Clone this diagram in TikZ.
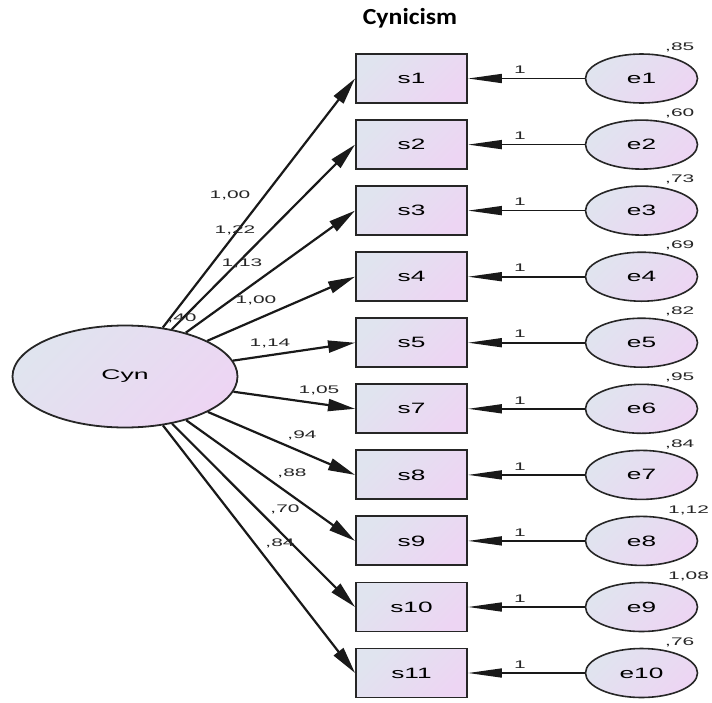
\documentclass[tikz,border=0pt]{standalone}
\usepackage{graphicx}
\usepackage{fontspec}
\setmainfont{Liberation Sans}
\newfontfamily\titlefont{Carlito}
\usetikzlibrary{arrows.meta,shapes.geometric}
\definecolor{shA}{RGB}{224,228,239}
\definecolor{shB}{RGB}{237,213,243}
\newcommand\wbox[1]{\scalebox{1.75}[1]{#1}}
\newcommand\wlbl[1]{\scalebox{1.9}[1]{#1}}
\begin{document}
\begin{tikzpicture}[x=1pt,y=-1pt,
  shadefill/.style={shading=axis, top color=shA, bottom color=shB, shading angle=45},
  obsbox/.style={rectangle, draw=black!85, line width=1.9pt, shadefill, minimum width=111pt, minimum height=49pt, inner sep=0pt, font=\fontsize{15}{15}\selectfont},
  errell/.style={ellipse, draw=black!85, line width=1.6pt, shadefill, minimum width=112pt, minimum height=49pt, inner sep=0pt, font=\fontsize{15}{15}\selectfont},
  latell/.style={ellipse, draw=black!85, line width=1.8pt, shadefill, minimum width=225pt, minimum height=102pt, inner sep=0pt, font=\fontsize{14}{14}\selectfont},
  lbl/.style={inner sep=0pt, font=\fontsize{11}{11}\selectfont, text=black!85},
  cynarrow/.style={draw=black!90, line width=2.2pt, -{Triangle[length=27pt,width=12pt]}},
  errarrow/.style={draw=black!90, line width=1.6pt, -{Triangle[length=34pt,width=9pt]}}]
\useasboundingbox (0,0) rectangle (712,702);
\node (title) at (410,18) {\titlefont\bfseries\fontsize{23}{23}\selectfont\scalebox{1.12}[1]{Cynicism}};
% latent
\node[latell] (cyn) at (125,376.5) {\wlbl{Cyn}};
% observed boxes
\node[obsbox] (s1)  at (411.5,78.5)  {\wbox{s1}};
\node[obsbox] (s2)  at (411.5,144.6) {\wbox{s2}};
\node[obsbox] (s3)  at (411.5,210.6) {\wbox{s3}};
\node[obsbox] (s4)  at (411.5,276.7) {\wbox{s4}};
\node[obsbox] (s5)  at (411.5,342.7) {\wbox{s5}};
\node[obsbox] (s7)  at (411.5,408.8) {\wbox{s7}};
\node[obsbox] (s8)  at (411.5,474.9) {\wbox{s8}};
\node[obsbox] (s9)  at (411.5,540.9) {\wbox{s9}};
\node[obsbox] (s10) at (411.5,607.0) {\wbox{s10}};
\node[obsbox] (s11) at (411.5,673.0) {\wbox{s11}};
% error ellipses
\node[errell] (e1)  at (641.5,78.5)  {\wbox{e1}};
\node[errell] (e2)  at (641.5,144.6) {\wbox{e2}};
\node[errell] (e3)  at (641.5,210.6) {\wbox{e3}};
\node[errell] (e4)  at (641.5,276.7) {\wbox{e4}};
\node[errell] (e5)  at (641.5,342.7) {\wbox{e5}};
\node[errell] (e6)  at (641.5,408.8) {\wbox{e6}};
\node[errell] (e7)  at (641.5,474.9) {\wbox{e7}};
\node[errell] (e8)  at (641.5,540.9) {\wbox{e8}};
\node[errell] (e9)  at (641.5,607.0) {\wbox{e9}};
\node[errell] (e10) at (641.5,673.0) {\wbox{e10}};
% error arrows
\foreach \a/\b in {e1/s1,e2/s2,e3/s3,e4/s4,e5/s5,e6/s7,e7/s8,e8/s9,e9/s10,e10/s11}{
  \draw[errarrow] (\a.west) -- (\b.east);
}
% "1" labels
\foreach \yy [count=\i] in {78.5,144.6,210.6,276.7,342.7,408.8,474.9,540.9,607.0,673.0}{
  \node[lbl] (one\i) at (520,\yy-8.5) {\wlbl{1}};
}
% variance labels
\node[lbl,anchor=west] (v1)  at (665,47.5)  {\wlbl{,85}};
\node[lbl,anchor=west] (v2)  at (665,113.6) {\wlbl{,60}};
\node[lbl,anchor=west] (v3)  at (665,179.6) {\wlbl{,73}};
\node[lbl,anchor=west] (v4)  at (665,245.7) {\wlbl{,69}};
\node[lbl,anchor=west] (v5)  at (665,311.7) {\wlbl{,82}};
\node[lbl,anchor=west] (v6)  at (665,377.8) {\wlbl{,95}};
\node[lbl,anchor=west] (v7)  at (665,443.9) {\wlbl{,84}};
\node[lbl,anchor=west] (v8)  at (668,509.9) {\wlbl{1,12}};
\node[lbl,anchor=west] (v9)  at (668,576.0) {\wlbl{1,08}};
\node[lbl,anchor=west] (v10) at (665,642.0) {\wlbl{,76}};
% loading arrows
\foreach \b in {s1,s2,s3,s4,s5,s7,s8,s9,s10,s11}{
  \draw[cynarrow] (cyn) -- (\b.west);
}
% loading labels
\node[lbl] (l1)  at (230,195) {\wlbl{1,00}};
\node[lbl] (l2)  at (235,230) {\wlbl{1,22}};
\node[lbl] (l3)  at (242,263) {\wlbl{1,13}};
\node[lbl] (l4)  at (256,300) {\wlbl{1,00}};
\node[lbl] (l5)  at (270,343) {\wlbl{1,14}};
\node[lbl] (l7)  at (319,390) {\wlbl{1,05}};
\node[lbl] (l8)  at (302,435) {\wlbl{,94}};
\node[lbl] (l9)  at (292,473) {\wlbl{,88}};
\node[lbl] (l10) at (285,509) {\wlbl{,70}};
\node[lbl] (l11) at (280,543) {\wlbl{,84}};
% latent variance
\node[lbl] (vc) at (182,318) {\wlbl{,40}};
\end{tikzpicture}
\end{document}
